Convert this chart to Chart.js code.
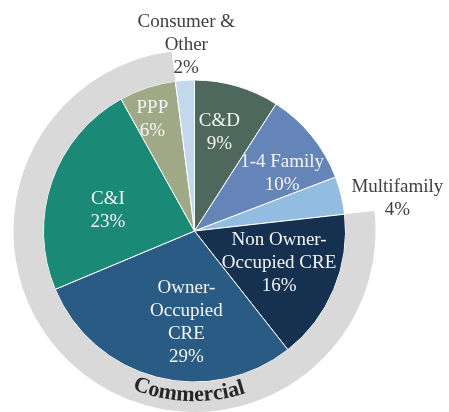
<!DOCTYPE html>
<html>
<head>
<meta charset="utf-8">
<script src="https://cdn.jsdelivr.net/npm/chart.js@4.4.0/dist/chart.umd.min.js"></script>
<style>
  html, body { margin: 0; padding: 0; background: #fff; }
</style>
</head>
<body>
<canvas id="loanChart" width="449" height="412"></canvas>
<script>
// loan mix data
const categories = ['C&D', '1-4 Family', 'Multifamily', 'Non Owner-Occupied CRE', 'Owner-Occupied CRE', 'C&I', 'PPP', 'Consumer & Other'];
const shares = [9, 10, 4, 16, 29, 23, 6, 2];
const isCommercial = [false, false, false, true, true, true, true, false];
const labelLines = [['C&D'], ['1-4 Family'], ['Multifamily'], ['Non Owner-', 'Occupied CRE'], ['Owner-', 'Occupied', 'CRE'], ['C&I'], ['PPP'], ['Consumer &', 'Other']];
const groupName = 'Commercial';

const sliceColors = ['#4f685e', '#6585b8', '#93bde0', '#16304f', '#2a5b84', '#1a8a76', '#9fa986', '#c4d8ec'];

// outer ring: merge neighbouring slices of the same group
const ringValues = [];
const ringColors = [];
shares.forEach((v, i) => {
    if (i > 0 && isCommercial[i] === isCommercial[i - 1]) {
        ringValues[ringValues.length - 1] += v;
    } else {
        ringValues.push(v);
        ringColors.push(isCommercial[i] ? '#d9d9d9' : 'rgba(0,0,0,0)');
    }
});

// where each label sits: angle shift (deg) from slice middle, radius factor
const labelPlace = [
    { da: -2.2, r: 0.675, color: '#f4f4f4' },
    { da: 5.7, r: 0.695, color: '#f4f4f4' },
    { da: 4.6, r: 1.36, color: '#404040' },
    { da: -1.7, r: 0.60, color: '#f4f4f4' },
    { da: -9.5, r: 0.61, color: '#f4f4f4' },
    { da: -5.5, r: 0.59, color: '#f4f4f4' },
    { da: -2.5, r: 0.79, color: '#f4f4f4' },
    { da: 1.1, r: 1.23, color: '#404040' }
];

const sliceLabels = {
    id: 'sliceLabels',
    afterDatasetsDraw(chart) {
        const ctx = chart.ctx;
        const arcs = chart.getDatasetMeta(1).data;
        ctx.save();
        ctx.font = '19px "Liberation Serif", "Times New Roman", serif';
        ctx.textAlign = 'center';
        ctx.textBaseline = 'middle';
        arcs.forEach((arc, i) => {
            const p = labelPlace[i];
            const mid = (arc.startAngle + arc.endAngle) / 2 + p.da * Math.PI / 180;
            const r = arc.outerRadius * p.r;
            const cx = arc.x + Math.cos(mid) * r;
            const cy = arc.y + Math.sin(mid) * r;
            const lines = labelLines[i].concat(shares[i] + '%');
            ctx.fillStyle = p.color;
            lines.forEach((t, k) => {
                ctx.fillText(t, cx, cy + (k - (lines.length - 1) / 2) * 23);
            });
        });
        ctx.restore();
    }
};

// curved group name along the grey ring
const ringTitle = {
    id: 'ringTitle',
    afterDatasetsDraw(chart) {
        const meta = chart.getDatasetMeta(0);
        const arc = meta.data[isCommercial[0] ? 0 : 1];
        const ctx = chart.ctx;
        const rb = arc.innerRadius + 19;
        ctx.save();
        ctx.font = 'bold 22px "Liberation Serif", "Times New Roman", serif';
        ctx.fillStyle = '#262626';
        ctx.textAlign = 'center';
        ctx.textBaseline = 'alphabetic';
        const total = ctx.measureText(groupName).width;
        let a = Math.PI / 2 + 0.035 + total / 2 / rb;
        for (const ch of groupName) {
            const w = ctx.measureText(ch).width;
            const ac = a - w / 2 / rb;
            ctx.save();
            ctx.translate(arc.x + Math.cos(ac) * rb, arc.y + Math.sin(ac) * rb);
            ctx.rotate(ac - Math.PI / 2);
            ctx.fillText(ch, 0, 0);
            ctx.restore();
            a -= w / rb;
        }
        ctx.restore();
    }
};

new Chart(document.getElementById('loanChart'), {
    type: 'pie',
    data: {
        labels: categories,
        datasets: [{
            label: 'Group',
            data: ringValues,
            backgroundColor: ringColors,
            borderWidth: 0,
            weight: 30
        }, {
            label: 'Loans',
            data: shares,
            backgroundColor: sliceColors,
            borderColor: '#ffffff',
            borderWidth: 1,
            weight: 151
        }]
    },
    options: {
        responsive: false,
        animation: false,
        layout: {
            padding: { left: 13, right: 73, top: 50, bottom: -1 }
        },
        plugins: {
            legend: { display: false },
            tooltip: { enabled: false }
        }
    },
    plugins: [sliceLabels, ringTitle]
});
</script>
</body>
</html>
